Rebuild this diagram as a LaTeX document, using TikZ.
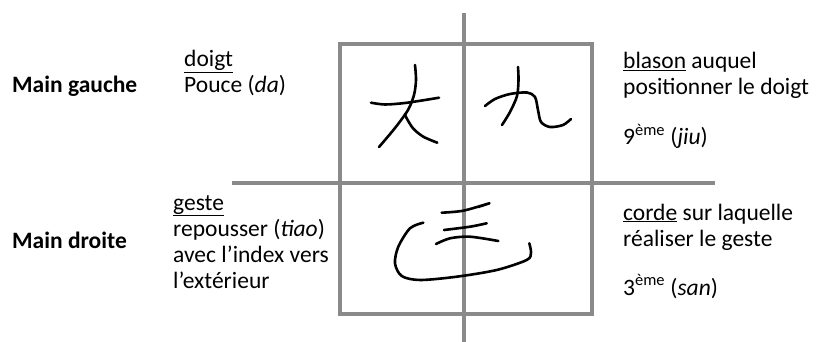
\documentclass[tikz,border=0pt]{standalone}
\usepackage{fontspec}
\setmainfont{Carlito}
\usetikzlibrary{positioning}
\definecolor{gridgray}{HTML}{8A8A8A}
\tikzset{
  txt/.style={anchor=base west, inner sep=0pt, align=left, font=\fontsize{23.5}{26}\selectfont},
  side/.style={txt, font=\fontsize{23.5}{26}\selectfont\bfseries},
  gridline/.style={draw=gridgray, line width=3.6pt},
  brush/.style={line width=2.6pt, line cap=round, line join=round}
}
\begin{document}
\begin{tikzpicture}[x=1pt, y=-1pt]
            \useasboundingbox (0,0) rectangle (817,342);

            %Grid
            \draw[gridline] (340,44) rectangle (592,314);
            \draw[gridline] (464,13) -- (464,342);
            \draw[gridline] (232,183) -- (715,183);

            %Labels (placed at the baseline of their last line)
            \node[side] at (12,93) (gauche) {Main gauche};
            \node[side] at (12,248) (droite) {Main droite};
            \node[txt] at (184,93) (doigt) {\underline{doigt}\\Pouce (\textit{da})};
            \node[txt] at (173,288) (geste) {\underline{geste}\\repousser (\textit{tiao})\\avec l'index vers\\l'extérieur};
            \node[txt] at (623,145) (blason) {\underline{blason} auquel\\positionner le doigt\\[24pt]9\textsuperscript{ème} (\textit{jiu})};
            \node[txt] at (623,295) (corde) {\underline{corde} sur laquelle\\réaliser le geste\\[23pt]3\textsuperscript{ème} (\textit{san})};

            %Character da
            \draw[brush] plot[smooth] coordinates {(371,102.7) (385,104.5) (405,103) (425,100) (439,97.7)};
            \draw[brush] plot[smooth] coordinates {(415,65) (416,80) (414,95) (408,110) (395,128) (379,147)};
            \draw[brush] plot[smooth] coordinates {(405,114) (406,117) (413,128.3) (423.3,136.7) (437.3,142.7)};

            %Character jiu
            \draw[brush] plot[smooth] coordinates {(518,67) (518.5,80) (517,96) (510,112) (502,125)};
            \draw[brush] plot[smooth] coordinates {(485,106) (495,99) (510,94) (527,92.5) (535,97) (538,110) (541,122) (550,127) (563,125) (571,119)};

            %Character san
            \draw[brush] plot[smooth] coordinates {(441.7,212.7) (463.3,210.7) (489.3,203.3) (478,207)};
            \draw[brush] plot[smooth] coordinates {(444,230) (470,226.7) (486.7,223.3)};
            \draw[brush] plot[smooth] coordinates {(436,244) (450,238.3) (470,236.7) (498.3,241)};
            \draw[brush] plot[smooth] coordinates {(423.3,222.7) (410,228.3) (398.3,246.7) (395,263.3) (401.7,276) (420,280) (456.7,276.7) (496.7,270) (526.7,260) (531,252.7) (529.3,243.3)};
        \end{tikzpicture}
\end{document}
